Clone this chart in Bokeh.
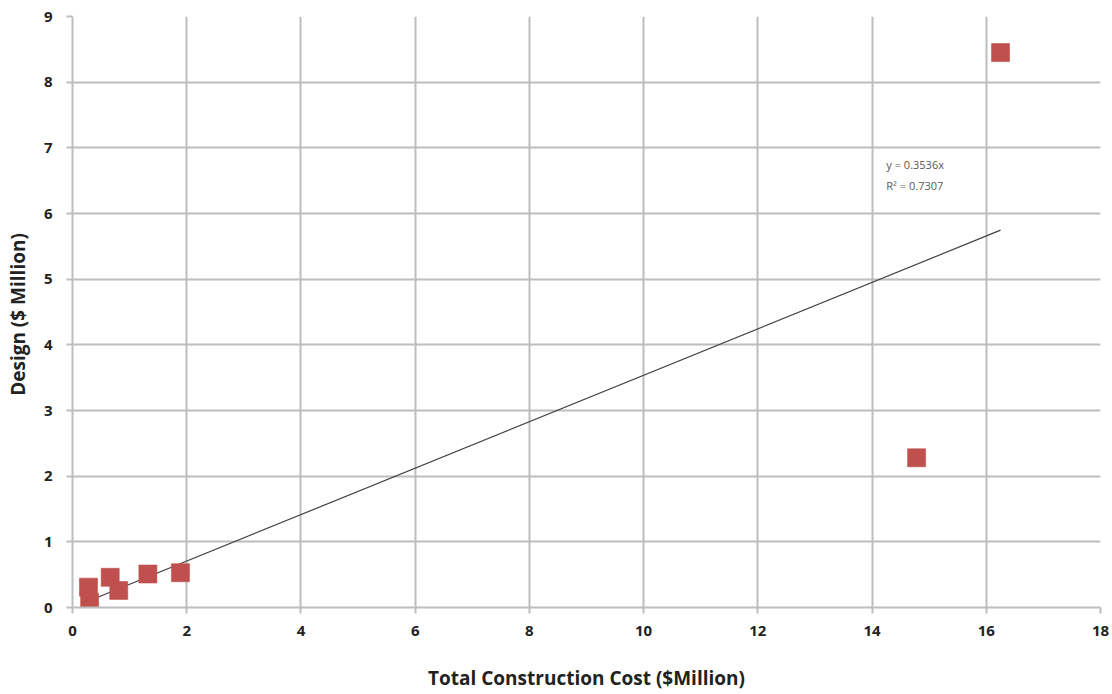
from bokeh.plotting import figure
from bokeh.models import Range1d, FixedTicker, Label
from bokeh.embed import file_html
from bokeh.resources import INLINE

# Total construction cost vs design cost ($ Million)
construction_cost = [0.28, 0.30, 0.66, 0.81, 1.32, 1.89, 14.78, 16.25]
design_cost = [0.31, 0.08, 0.46, 0.26, 0.51, 0.53, 2.28, 8.45]

# Linear trend through the origin
slope = 0.3536
r_squared = 0.7307
trend_x = [min(construction_cost), max(construction_cost)]
trend_y = [slope * v for v in trend_x]

x_ticks = [0, 2, 4, 6, 8, 10, 12, 14, 16, 18]
y_ticks = [0, 1, 2, 3, 4, 5, 6, 7, 8, 9]

FONT = "Open Sans"
GRID = "#bdbdbd"

p = figure(width=1112, height=694, output_backend="svg", toolbar_location=None,
           x_range=Range1d(0, 18), y_range=Range1d(0, 9),
           min_border_left=72, min_border_right=12, min_border_top=16,
           min_border_bottom=87)
p.outline_line_color = None

p.xaxis.ticker = FixedTicker(ticks=x_ticks)
p.yaxis.ticker = FixedTicker(ticks=y_ticks)
p.xgrid.ticker = FixedTicker(ticks=x_ticks)
p.ygrid.ticker = FixedTicker(ticks=y_ticks)
p.xgrid.grid_line_color = GRID
p.ygrid.grid_line_color = GRID
p.xgrid.grid_line_width = 2
p.ygrid.grid_line_width = 2

for ax in (p.xaxis, p.yaxis):
    ax.axis_line_color = GRID
    ax.axis_line_width = 2
    ax.major_tick_line_color = GRID
    ax.major_tick_line_width = 2
    ax.major_tick_out = 6
    ax.major_tick_in = 0
    ax.minor_tick_line_color = None
    ax.major_label_text_font = FONT
    ax.major_label_text_font_style = "bold"
    ax.major_label_text_font_size = "15px"
    ax.major_label_text_color = "#222222"
    ax.axis_label_text_font = FONT
    ax.axis_label_text_font_style = "bold"
    ax.axis_label_text_font_size = "19px"
    ax.axis_label_text_color = "#222222"

p.xaxis.axis_label = "Total Construction Cost ($Million)"
p.yaxis.axis_label = "Design  ($ Million)"
p.xaxis.major_label_standoff = 12
p.yaxis.major_label_standoff = 14
p.xaxis.axis_label_standoff = 26
p.yaxis.axis_label_standoff = 10

p.line(trend_x, trend_y, line_color="#404040", line_width=1.2)

p.scatter(construction_cost, design_cost, marker="square", size=18,
          fill_color="#C0504D", line_color="#C0504D", line_alpha=0.6)

p.add_layout(Label(x=14.25, y=6.63, text=f"y = {slope}x",
                   text_font=FONT, text_font_size="11px", text_color="#595959"))
p.add_layout(Label(x=14.25, y=6.31, text=f"R² = {r_squared}",
                   text_font=FONT, text_font_size="11px", text_color="#595959"))

open("out.html", "w").write(file_html(p, INLINE))
